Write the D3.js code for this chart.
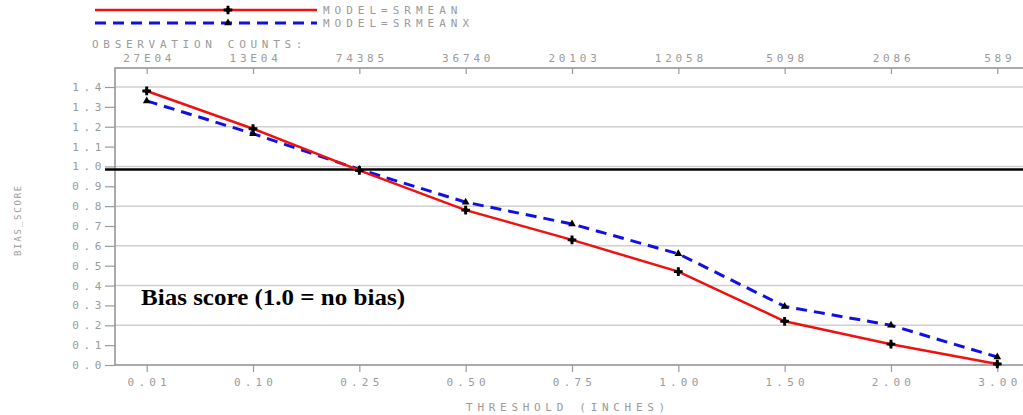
<!DOCTYPE html>
<html>
<head>
<meta charset="utf-8">
<script src="https://cdn.jsdelivr.net/npm/d3@7"></script>
<style>
  html, body { margin: 0; padding: 0; background: #fff; }
  svg { display: block; }
  .mono { font-family: "DejaVu Sans Mono", monospace; fill: #9a9a9a; }
</style>
</head>
<body>
<svg id="chart" width="1023" height="415"></svg>
<script>
// Precipitation thresholds (inches) and observation counts per threshold
const thresholds = ["0.01", "0.10", "0.25", "0.50", "0.75", "1.00", "1.50", "2.00", "3.00"];
const obsCounts = ["27E04", "13E04", "74385", "36740", "20103", "12058", "5098", "2086", "589"];

// Bias score per model
const srmean  = [1.38, 1.19, 0.98, 0.78, 0.63, 0.47, 0.22, 0.105, 0.005];
const srmeanx = [1.33, 1.165, 0.985, 0.82, 0.71, 0.56, 0.295, 0.20, 0.04];

const yTicks = [0.0, 0.1, 0.2, 0.3, 0.4, 0.5, 0.6, 0.7, 0.8, 0.9, 1.0, 1.1, 1.2, 1.3, 1.4];
const noBias = 0.985;

const svg = d3.select("#chart");
const plot = { left: 115, right: 1030, top: 68, bottom: 365 };

const x = d3.scalePoint().domain(thresholds).range([146.7, 997.3]);
const y = d3.scaleLinear().domain([0, 1.4]).range([plot.bottom, 87]);

// Horizontal grid lines at even tenths
svg.append("g").selectAll("line")
  .data(yTicks.filter((d, i) => i % 2 === 0 && d > 0))
  .join("line")
  .attr("x1", plot.left).attr("x2", plot.right)
  .attr("y1", d => y(d)).attr("y2", d => y(d))
  .attr("stroke", "#cfcfcf").attr("stroke-width", 1.5);

// Plot frame
svg.append("rect")
  .attr("x", plot.left).attr("y", plot.top)
  .attr("width", plot.right - plot.left).attr("height", plot.bottom - plot.top)
  .attr("fill", "none").attr("stroke", "#8e8e8e").attr("stroke-width", 1.5);

// Left axis
const yAxis = d3.axisLeft(y).tickValues(yTicks).tickSize(10).tickPadding(3)
  .tickFormat(d => d3.format(".1f")(d));
const gy = svg.append("g").attr("transform", `translate(${plot.left},0)`).call(yAxis);
gy.select(".domain").remove();
gy.selectAll(".tick line").attr("stroke", "#9a9a9a").attr("stroke-width", 1.2);
gy.selectAll(".tick text").attr("class", "mono").attr("font-size", 11)
  .style("letter-spacing", "4.6px").attr("dx", 4);

// Bottom axis
const xAxis = d3.axisBottom(x).tickSize(7).tickPadding(6);
const gx = svg.append("g").attr("transform", `translate(0,${plot.bottom})`).call(xAxis);
gx.select(".domain").remove();
gx.selectAll(".tick line").attr("stroke", "#9a9a9a").attr("stroke-width", 1.2);
gx.selectAll(".tick text").attr("class", "mono").attr("font-size", 11)
  .style("letter-spacing", "4.2px").attr("dx", 2);

// Top axis with observation counts
const countOf = d3.scaleOrdinal().domain(thresholds).range(obsCounts);
const xTop = d3.axisTop(x).tickSize(-6).tickPadding(5).tickFormat(d => countOf(d));
const gt = svg.append("g").attr("transform", `translate(0,${plot.top})`).call(xTop);
gt.select(".domain").remove();
gt.selectAll(".tick line").attr("stroke", "#9a9a9a").attr("stroke-width", 1.2);
gt.selectAll(".tick text").attr("class", "mono").attr("font-size", 11)
  .style("letter-spacing", "3.8px").attr("dx", 2).attr("dy", -1);

svg.append("text").attr("class", "mono").attr("font-size", 11)
  .style("letter-spacing", "4.7px")
  .attr("x", 92).attr("y", 48).text("OBSERVATION COUNTS:");

// Axis titles
svg.append("text").attr("class", "mono").attr("font-size", 11)
  .style("letter-spacing", "4.7px").attr("text-anchor", "middle")
  .attr("x", 568).attr("y", 411).text("THRESHOLD (INCHES)");

svg.append("text").attr("class", "mono").attr("font-size", 9)
  .style("letter-spacing", "1.8px").attr("text-anchor", "middle")
  .attr("transform", "translate(21,220) rotate(-90)").text("BIAS_SCORE");

// No-bias reference line
svg.append("line")
  .attr("x1", 105).attr("x2", 1023)
  .attr("y1", y(noBias)).attr("y2", y(noBias))
  .attr("stroke", "#000").attr("stroke-width", 2.5);

// Series lines
const line = d3.line().x((d, i) => x(thresholds[i])).y(d => y(d));

svg.append("path").datum(srmeanx).attr("d", line)
  .attr("fill", "none").attr("stroke", "#1010e0").attr("stroke-width", 3)
  .attr("stroke-dasharray", "11,7");

svg.append("path").datum(srmean).attr("d", line)
  .attr("fill", "none").attr("stroke", "#f01010").attr("stroke-width", 2.5);

// Markers: four-point star for SRMEAN, triangle for SRMEANX
const diamondSq = d3.symbol().type(d3.symbolSquare).size(22);
const cross = d3.symbol().type(d3.symbolCross).size(42);
const tri = d3.symbol().type(d3.symbolTriangle).size(26);

function starMarker(g) {
  g.append("path").attr("d", diamondSq).attr("transform", "rotate(45)").attr("fill", "#000");
  g.append("path").attr("d", cross).attr("fill", "#000");
}

svg.append("g").selectAll("path").data(srmeanx).join("path")
  .attr("transform", (d, i) => `translate(${x(thresholds[i])},${y(d)})`)
  .attr("d", tri).attr("fill", "#000");

svg.append("g").selectAll("g").data(srmean).join("g")
  .attr("transform", (d, i) => `translate(${x(thresholds[i])},${y(d)})`)
  .each(function () { starMarker(d3.select(this)); });

// Legend
const legend = svg.append("g");
legend.append("line").attr("x1", 95).attr("x2", 317).attr("y1", 10).attr("y2", 10)
  .attr("stroke", "#f01010").attr("stroke-width", 2.5);
legend.append("g").attr("transform", "translate(228,10)").call(starMarker);
legend.append("line").attr("x1", 95).attr("x2", 317).attr("y1", 23).attr("y2", 23)
  .attr("stroke", "#1010e0").attr("stroke-width", 3).attr("stroke-dasharray", "11,7");
legend.append("path").attr("transform", "translate(228,23)").attr("d", tri).attr("fill", "#000");
legend.append("text").attr("class", "mono").attr("font-size", 11)
  .style("letter-spacing", "5px").attr("x", 323).attr("y", 14).text("MODEL=SRMEAN");
legend.append("text").attr("class", "mono").attr("font-size", 11)
  .style("letter-spacing", "5px").attr("x", 323).attr("y", 27).text("MODEL=SRMEANX");

// Annotation
svg.append("text")
  .attr("x", 141).attr("y", 305)
  .attr("font-family", "Liberation Serif, Times New Roman, serif")
  .attr("font-weight", "bold").attr("font-size", 23)
  .attr("textLength", 264).attr("lengthAdjust", "spacingAndGlyphs")
  .attr("fill", "#000")
  .text("Bias score (1.0 = no bias)");
</script>
</body>
</html>
